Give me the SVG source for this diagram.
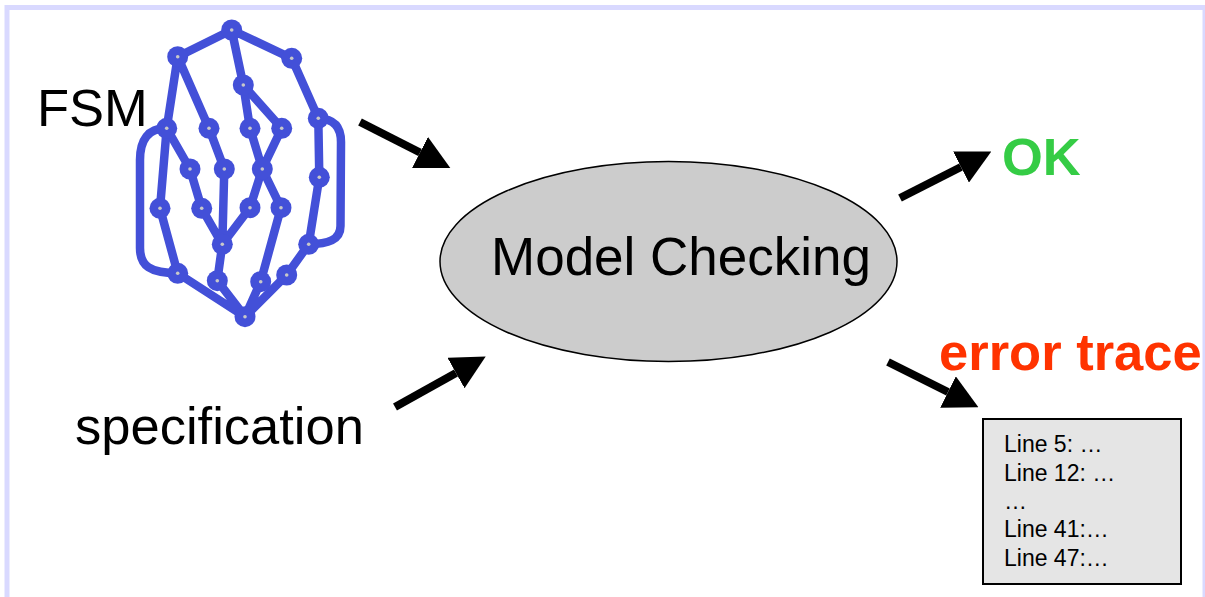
<svg xmlns="http://www.w3.org/2000/svg" width="1205" height="597" viewBox="0 0 1205 597">
<style>
.lbl{font-family:"Liberation Sans",Arial,sans-serif;font-size:52.5px;fill:#000}
.bold{font-weight:bold}
.small{font-family:"Liberation Sans",Arial,sans-serif;font-size:23px;fill:#000}
.edge{stroke:#4350d8;stroke-width:8.5;fill:none;stroke-linecap:round;stroke-linejoin:round}
.st{fill:#4350d8}
.dot{fill:#c8c8c8}
.conn{stroke:#000;stroke-width:8;fill:none}
</style>
<defs>
<marker id="ah" viewBox="0 0 34 35" refX="0" refY="17.5" markerWidth="34" markerHeight="35" markerUnits="userSpaceOnUse" orient="auto">
<path d="M0,0 L34,17.5 L0,35 z" fill="#000"/>
</marker>
</defs>
<rect x="7" y="7.5" width="1198" height="620" fill="none" stroke="#d9d9ff" stroke-width="5"/>

<g id="fsm">
<g class="edge">
<path d="M231.7,30 L177.7,56.7 M231.7,30 L291.7,58.3 M231.7,30 L243.3,85"/>
<path d="M177.7,56.7 L166.7,128.3 M177.7,56.7 L209,128.3 M291.7,58.3 L318.3,118.3"/>
<path d="M243.3,85 L250,128.3 M243.3,85 L281.7,128.3"/>
<path d="M250,128.3 L262.3,169 L281,207.7 M281.7,128.3 L262.3,169 L250,207.7"/>
<path d="M166.7,128.3 L190,169 L201.7,208.3 L222.3,244.3 M209,128.3 L224.3,169 L222.3,244.3 M250,207.7 L222.3,244.3"/>
<path d="M166.7,128.3 L160,208.3 L177.7,273.3 L245,316.7 M222.3,244.3 L217.3,280.7 L245,316.7"/>
<path d="M281,207.7 L260.7,281.7 L245,316.7 M318.3,118.3 L319.3,177.3 L308.7,244.3 L286.7,275 L245,316.7"/>
<path d="M166.7,128.3 C148,128 140,140 140,160 L140,248 C140,266 150,273 177.7,273.3"/>
<path d="M318.3,118.3 C334,119 341,127 341,142 L340.5,226 C340.5,240 328,244 308.7,244.3"/>
</g>
<g class="st">
<circle cx="231.7" cy="30" r="10.5"/><circle cx="177.7" cy="56.7" r="10.5"/><circle cx="291.7" cy="58.3" r="10.5"/>
<circle cx="243.3" cy="85" r="10.5"/><circle cx="318.3" cy="118.3" r="10.5"/><circle cx="166.7" cy="128.3" r="10.5"/>
<circle cx="209" cy="128.3" r="10.5"/><circle cx="250" cy="128.3" r="10.5"/><circle cx="281.7" cy="128.3" r="10.5"/>
<circle cx="190" cy="169" r="10.5"/><circle cx="224.3" cy="169" r="10.5"/><circle cx="262.3" cy="169" r="10.5"/>
<circle cx="319.3" cy="177.3" r="10.5"/><circle cx="160" cy="208.3" r="10.5"/><circle cx="201.7" cy="208.3" r="10.5"/>
<circle cx="250" cy="207.7" r="10.5"/><circle cx="281" cy="207.7" r="10.5"/><circle cx="222.3" cy="244.3" r="10.5"/>
<circle cx="308.7" cy="244.3" r="10.5"/><circle cx="177.7" cy="273.3" r="10.5"/><circle cx="217.3" cy="280.7" r="10.5"/>
<circle cx="260.7" cy="281.7" r="10.5"/><circle cx="286.7" cy="275" r="10.5"/><circle cx="245" cy="316.7" r="10.5"/>
</g>
<g class="dot">
<circle cx="231.7" cy="30" r="1.8"/><circle cx="177.7" cy="56.7" r="1.8"/><circle cx="291.7" cy="58.3" r="1.8"/>
<circle cx="243.3" cy="85" r="1.8"/><circle cx="318.3" cy="118.3" r="1.8"/><circle cx="166.7" cy="128.3" r="1.8"/>
<circle cx="209" cy="128.3" r="1.8"/><circle cx="250" cy="128.3" r="1.8"/><circle cx="281.7" cy="128.3" r="1.8"/>
<circle cx="190" cy="169" r="1.8"/><circle cx="224.3" cy="169" r="1.8"/><circle cx="262.3" cy="169" r="1.8"/>
<circle cx="319.3" cy="177.3" r="1.8"/><circle cx="160" cy="208.3" r="1.8"/><circle cx="201.7" cy="208.3" r="1.8"/>
<circle cx="250" cy="207.7" r="1.8"/><circle cx="281" cy="207.7" r="1.8"/><circle cx="222.3" cy="244.3" r="1.8"/>
<circle cx="308.7" cy="244.3" r="1.8"/><circle cx="177.7" cy="273.3" r="1.8"/><circle cx="217.3" cy="280.7" r="1.8"/>
<circle cx="260.7" cy="281.7" r="1.8"/><circle cx="286.7" cy="275" r="1.8"/><circle cx="245" cy="316.7" r="1.8"/>
</g>
</g>

<g id="fsm-label"><text class="lbl" x="37" y="126">FSM</text></g>
<g id="spec"><text class="lbl" x="75" y="444">specification</text></g>

<g id="mc">
<ellipse cx="668.5" cy="261.5" rx="228.5" ry="100" fill="#cccccc" stroke="#000" stroke-width="1.5"/>
<text class="lbl" x="491" y="275" style="font-size:53px">Model Checking</text>
</g>

<g id="ok"><text class="lbl bold" x="1002" y="175" style="fill:#35cc45">OK</text></g>
<g id="err-label"><text class="lbl bold" x="939" y="370" style="fill:#ff3300">error trace</text></g>

<g id="trace">
<rect x="983" y="419" width="198" height="165" fill="#e5e5e5" stroke="#000" stroke-width="2"/>
<text class="small" x="1004" y="452">Line 5: …</text>
<text class="small" x="1004" y="481">Line 12: …</text>
<text class="small" x="1004" y="509">…</text>
<text class="small" x="1004" y="537">Line 41:…</text>
<text class="small" x="1004" y="566">Line 47:…</text>
</g>

<g id="connectors" class="conn">
<line x1="360" y1="122" x2="420" y2="152.5" marker-end="url(#ah)"/>
<line x1="395" y1="407" x2="456" y2="373" marker-end="url(#ah)"/>
<line x1="900" y1="198" x2="961" y2="167" marker-end="url(#ah)"/>
<line x1="888" y1="362" x2="948" y2="392" marker-end="url(#ah)"/>
</g>
</svg>
